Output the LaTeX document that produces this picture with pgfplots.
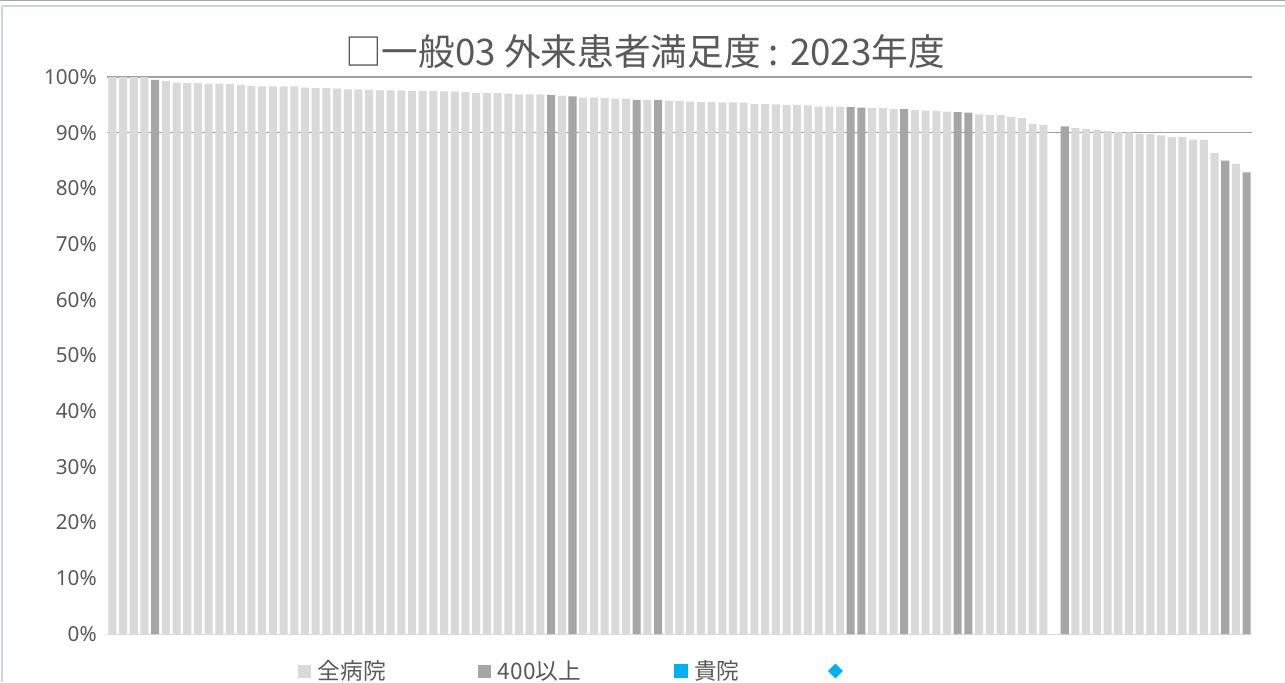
\documentclass[border=0pt]{standalone}
\usepackage{fontspec}
\setmainfont{Noto Sans CJK JP}
\newfontfamily\notosans{Noto Sans}
\usepackage{pgfplots}
\usepackage{pgfplotstable}
\pgfplotsset{compat=1.18}
\definecolor{lightbar}{HTML}{D9D9D9}
\definecolor{darkbar}{HTML}{A6A6A6}
\definecolor{kiin}{HTML}{00B0F0}
\definecolor{txt}{HTML}{595959}
\definecolor{gridc}{HTML}{A0A0A0}
\definecolor{framec}{HTML}{C9D5E8}

\pgfplotstableread{
x y
0 100
1 100
2 100
3 100
5 99.3
6 99.0
7 98.9
8 98.9
9 98.8
10 98.8
11 98.7
12 98.6
13 98.4
14 98.3
15 98.3
16 98.3
17 98.3
18 98.1
19 98.0
20 98.0
21 97.9
22 97.8
23 97.8
24 97.7
25 97.6
26 97.6
27 97.6
28 97.5
29 97.5
30 97.5
31 97.4
32 97.4
33 97.3
34 97.1
35 97.1
36 97.1
37 97.0
38 96.9
39 96.9
40 96.9
42 96.6
44 96.3
45 96.3
46 96.2
47 96.1
48 96.1
50 95.9
52 95.75
53 95.65
54 95.6
55 95.5
56 95.5
57 95.45
58 95.45
59 95.4
60 95.15
61 95.15
62 95.1
63 95.0
64 95.0
65 94.9
66 94.7
67 94.7
68 94.7
71 94.4
72 94.4
73 94.25
75 94.1
76 93.95
77 93.9
78 93.8
81 93.3
82 93.2
83 93.15
84 92.8
85 92.6
86 91.6
87 91.4
90 90.8
91 90.7
92 90.5
93 90.3
94 90.1
95 90.05
96 89.8
97 89.8
98 89.5
99 89.2
100 89.2
101 88.75
102 88.7
103 86.35
105 84.4
}\allhosp

\pgfplotstableread{
x y
4 99.5
41 96.8
43 96.5
49 95.9
51 95.9
69 94.6
70 94.5
74 94.25
79 93.7
80 93.6
89 91.15
104 85.0
106 82.9
}\overfour

\newcommand{\sqimg}[1]{\fill[#1] (0pt,-4.875pt) rectangle (9.75pt,4.875pt);}

\begin{document}
\begin{tikzpicture}
\path[use as bounding box] (0,0) rectangle (963.75pt,-511.5pt);
\fill[white] (0,0) rectangle (963.75pt,-511.5pt);
\draw[gray!70, line width=1pt] (0,-0.5pt) -- (963.75pt,-0.5pt);
\draw[framec, line width=1.5pt] (1.3pt,-4.3pt) -- (963.75pt,-4.3pt);
\draw[framec, line width=1.5pt] (1.3pt,-4.3pt) -- (1.3pt,-511.5pt);
\node[text=txt, font=\fontsize{27.5}{32}\selectfont] at (483.75pt,-39pt) {□一般03 外来患者満足度 : 2023年度};
\begin{axis}[
  at={(80.25pt,-475.5pt)}, anchor=south west,
  width=858.75pt, height=417.75pt, scale only axis,
  xmin=-0.5, xmax=106.5, ymin=0, ymax=100,
  ybar, bar width=0.75, bar shift=0pt,
  xtick=\empty,
  ytick={0,10,20,30,40,50,60,70,80,90,100},
  yticklabels={0\%,10\%,20\%,30\%,40\%,50\%,60\%,70\%,80\%,90\%,100\%},
  yticklabel style={font=\notosans\fontsize{15.5}{18}\selectfont, text=txt, inner sep=0pt, xshift=-7.5pt},
  major tick length=0pt,
  axis x line*=bottom, axis y line*=left,
  y axis line style={draw=none},
  x axis line style={draw=lightbar, line width=0.75pt},
  extra y ticks={90,100},
  extra y tick labels={},
  extra y tick style={grid=major, major grid style={draw=gridc, line width=1.1pt}},
  legend style={at={(0.1668,-0.0665)}, anchor=west, draw=none, fill=none,
    legend columns=4, inner sep=0pt, outer sep=0pt,
    nodes={inner sep=0pt, text=txt, font=\fontsize{17}{20}\selectfont, anchor=west},
    /tikz/every odd column/.append style={column sep=5.25pt}},
]
\addplot[fill=lightbar, draw=none, legend image code/.code={\sqimg{lightbar}}] table[x=x,y=y] {\allhosp};
\addlegendentry{\makebox[120pt][l]{全病院}}
\addplot[fill=darkbar, draw=none, legend image code/.code={\sqimg{darkbar}}] table[x=x,y=y] {\overfour};
\addlegendentry{\makebox[131.75pt][l]{400以上}}
\addlegendimage{legend image code/.code={\sqimg{kiin}}}
\addlegendentry{\makebox[100.5pt][l]{貴院}}
\addlegendimage{legend image code/.code={\fill[kiin] (0pt,0pt) -- (5.25pt,5.25pt) -- (10.5pt,0pt) -- (5.25pt,-5.25pt) -- cycle;}}
\addlegendentry{\mbox{}}
\end{axis}
\end{tikzpicture}
\end{document}
